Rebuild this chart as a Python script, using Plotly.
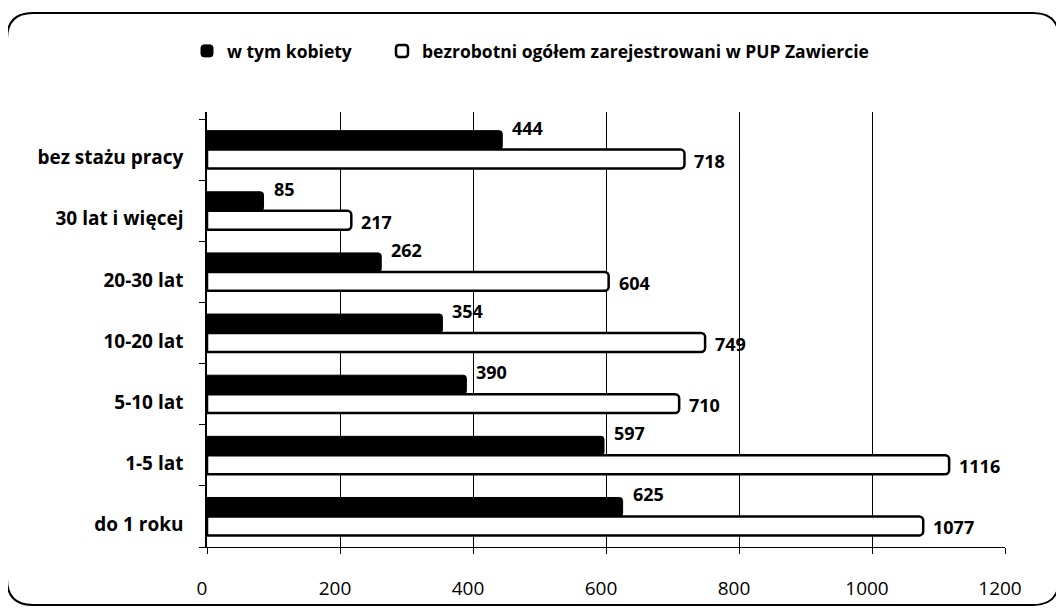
import plotly.graph_objects as go

# ---- data ----
categories = ["do 1 roku", "1-5 lat", "5-10 lat", "10-20 lat", "20-30 lat",
              "30 lat i więcej", "bez stażu pracy"]
kobiety = [625, 597, 390, 354, 262, 85, 444]
ogolem = [1077, 1116, 710, 749, 604, 217, 718]
series_names = ["w tym kobiety", "bezrobotni ogółem zarejestrowani w PUP Zawiercie"]
x_ticks = [0, 200, 400, 600, 800, 1000, 1200]

OFF = 8  # default page body margin
W, H = 1064 - OFF, 615 - OFF
ML, MR, MT, MB = 207 - OFF, 59, 112 - OFF, 68
PW, PH = W - ML - MR, H - MT - MB
FONT = "Open Sans"


def px(x):
    return (x - OFF - ML) / PW


def py(y):
    return 1 - (y - OFF - MT) / PH


fig = go.Figure()
fig.add_trace(go.Bar(
    y=categories, x=ogolem, orientation="h", name=series_names[1],
    marker=dict(color="white", line=dict(color="black", width=2.5), cornerradius=4),
    legendrank=2, legendwidth=500, hoverinfo="x+y"))
fig.add_trace(go.Bar(
    y=categories, x=kobiety, orientation="h", name=series_names[0],
    marker=dict(color="black", line=dict(color="black", width=1), cornerradius=3),
    legendrank=1, legendwidth=150, hoverinfo="x+y"))

annotations = []
for c, v in zip(categories, kobiety):
    annotations.append(dict(x=v, y=c, xref="x", yref="y", text=str(v), showarrow=False,
                            xanchor="left", yanchor="middle", xshift=8, yshift=22,
                            font=dict(family=FONT, size=18, color="black", weight="bold")))
for c, v in zip(categories, ogolem):
    annotations.append(dict(x=v, y=c, xref="x", yref="y", text=str(v), showarrow=False,
                            xanchor="left", yanchor="middle", xshift=8, yshift=-11,
                            font=dict(family=FONT, size=18, color="black", weight="bold")))

# rounded outer frame
x0, x1, y0, y1 = px(7), px(1059), py(13), py(605)
rx, ry = 26 / PW, 26 / PH
frame = (f"M {x0+rx},{y0} L {x1-rx},{y0} Q {x1},{y0} {x1},{y0-ry} "
         f"L {x1},{y1+ry} Q {x1},{y1} {x1-rx},{y1} L {x0+rx},{y1} "
         f"Q {x0},{y1} {x0},{y1+ry} L {x0},{y0-ry} Q {x0},{y0} {x0+rx},{y0} Z")

fig.update_layout(
    width=W, height=H,
    margin=dict(l=ML, r=MR, t=MT, b=MB),
    paper_bgcolor="white", plot_bgcolor="white",
    barmode="group", bargap=0.38, bargroupgap=0,
    font=dict(family=FONT, color="black"),
    showlegend=True,
    legend=dict(orientation="h", x=px(187), xanchor="left", y=py(51), yanchor="middle",
                font=dict(family=FONT, size=17.5, color="black", weight="bold"),
                bgcolor="rgba(0,0,0,0)"),
    xaxis=dict(range=[0, 1200], tickvals=x_ticks, showgrid=True, gridcolor="black",
               gridwidth=1, zeroline=False, showline=True, linecolor="black", linewidth=1,
               ticks="outside", ticklen=6, tickcolor="black",
               tickfont=dict(family=FONT, size=19, color="black"),
               ticklabelstandoff=18, ticklabelshift=-5),
    yaxis=dict(type="category", categoryorder="array", categoryarray=categories,
               range=[-0.5, 6.615], showgrid=False, zeroline=False, showline=True,
               linecolor="black", linewidth=1.5, ticks="outside", ticklen=6,
               tickcolor="black", tickson="boundaries",
               tickfont=dict(family=FONT, size=19, color="black", weight="bold"),
               ticklabelstandoff=18, ticklabelshift=8),
    annotations=annotations,
    shapes=[dict(type="path", path=frame, xref="paper", yref="paper",
                 line=dict(color="black", width=2), fillcolor="rgba(0,0,0,0)", layer="above")],
)

fig.write_html("out.html")
